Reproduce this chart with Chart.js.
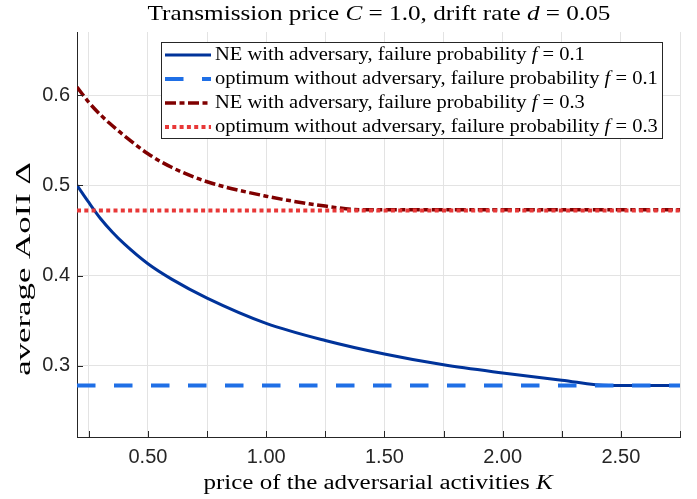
<!DOCTYPE html>
<html>
<head>
<meta charset="utf-8">
<script src="https://cdn.jsdelivr.net/npm/chart.js@4.4.1/dist/chart.umd.min.js"></script>
<style>
  body { margin: 0; background: #fff; }
  #wrap { width: 697px; height: 499px; position: relative; }
</style>
</head>
<body>
<div id="wrap"><canvas id="aoii"></canvas></div>
<script>
// valeurs (prix K -> AoII moyen)
let kNe01 = [0.2, 0.25, 0.3, 0.35, 0.4, 0.5, 0.6, 0.75, 1.0, 1.25, 1.5, 1.75, 2.0, 2.25, 2.45, 2.75];
let aoiiNe01 = [0.500, 0.481, 0.463, 0.448, 0.435, 0.413, 0.396, 0.375, 0.347, 0.328, 0.313, 0.301, 0.292, 0.284, 0.278, 0.278];

let kNe03 = [0.2, 0.25, 0.3, 0.35, 0.4, 0.5, 0.6, 0.75, 1.0, 1.25, 1.4, 2.75];
let aoiiNe03 = [0.609, 0.592, 0.578, 0.566, 0.555, 0.535, 0.520, 0.504, 0.488, 0.477, 0.473, 0.473];

let kOpt = [0.2, 2.75];
let aoiiOpt01 = [0.278, 0.278];
let aoiiOpt03 = [0.472, 0.472];

let xTicks = [0.25, 0.5, 0.75, 1.0, 1.25, 1.5, 1.75, 2.0, 2.25, 2.5, 2.75];
let xTickLabels = ['', '0.50', '', '1.00', '', '1.50', '', '2.00', '', '2.50', ''];
let yTicks = [0.3, 0.4, 0.5, 0.6];
let yTickLabels = ['0.3', '0.4', '0.5', '0.6'];

// textes avec les lettres en italique : [texte, italique]
let legendParts = [
  [['NE with adversary, failure probability ', false], ['f', true], [' = 0.1', false]],
  [['optimum without adversary, failure probability ', false], ['f', true], [' = 0.1', false]],
  [['NE with adversary, failure probability ', false], ['f', true], [' = 0.3', false]],
  [['optimum without adversary, failure probability ', false], ['f', true], [' = 0.3', false]]
];
let titleParts = [['Transmission price ', false], ['C', true], [' = 1.0, drift rate ', false], ['d', true], [' = 0.05', false]];
let xTitleParts = [['price of the adversarial activities ', false], ['K', true]];
let yTitleParts = [['average AoII ', false], ['\u0394', false]];

function points(xs, ys) {
  let out = [];
  for (let i = 0; i < xs.length; i++) {
    out.push({ x: xs[i], y: ys[i] });
  }
  return out;
}

let serif = '"Liberation Serif", "DejaVu Serif", serif';

// écrit un texte en plusieurs morceaux, étiré en largeur par "stretch"
function richText(ctx, parts, x, y, size, align, stretch) {
  let w = 0;
  parts.forEach(p => {
    ctx.font = (p[1] ? 'italic ' : '') + size + 'px ' + serif;
    w += ctx.measureText(p[0]).width;
  });
  ctx.save();
  ctx.translate(x, y);
  ctx.scale(stretch, 1);
  let cx = align === 'center' ? -w / 2 : 0;
  ctx.textBaseline = 'middle';
  ctx.textAlign = 'left';
  parts.forEach(p => {
    ctx.font = (p[1] ? 'italic ' : '') + size + 'px ' + serif;
    ctx.fillText(p[0], cx, 0);
    cx += ctx.measureText(p[0]).width;
  });
  ctx.restore();
}

let datasets = [
  { label: 'NE f=0.1', data: points(kNe01, aoiiNe01), borderColor: '#00339a', borderWidth: 3, borderDash: [], order: 3, cubicInterpolationMode: 'monotone' },
  { label: 'opt f=0.1', data: points(kOpt, aoiiOpt01), borderColor: '#1f6fe6', borderWidth: 4, borderDash: [18.5, 18.5], order: 0 },
  { label: 'NE f=0.3', data: points(kNe03, aoiiNe03), borderColor: '#800000', borderWidth: 3.5, borderDash: [11, 3.5, 5, 3.5], order: 2, cubicInterpolationMode: 'monotone' },
  { label: 'opt f=0.3', data: points(kOpt, aoiiOpt03), borderColor: '#e83838', borderWidth: 4, borderDash: [4, 3.3], order: 1 }
];
datasets.forEach(d => { d.pointRadius = 0; d.fill = false; d.borderCapStyle = 'butt'; });

let decor = {
  id: 'decor',
  afterDraw(chart) {
    let ctx = chart.ctx;
    let a = chart.chartArea;
    let xs = chart.scales.x;
    let ys = chart.scales.y;
    ctx.save();

    // petites graduations vers l'intérieur
    ctx.strokeStyle = '#262626';
    ctx.lineWidth = 1;
    ctx.beginPath();
    xTicks.forEach(v => {
      let px = Math.round(xs.getPixelForValue(v)) + 0.5;
      ctx.moveTo(px, a.bottom);
      ctx.lineTo(px, a.bottom - 6);
    });
    yTicks.forEach(v => {
      let py = Math.round(ys.getPixelForValue(v)) + 0.5;
      ctx.moveTo(a.left, py);
      ctx.lineTo(a.left + 6, py);
    });
    ctx.stroke();

    ctx.fillStyle = '#000';
    richText(ctx, titleParts, 379, 14, 21, 'center', 1.2);
    richText(ctx, xTitleParts, 378, 484, 20, 'center', 1.25);
    ctx.save();
    ctx.translate(25, 269);
    ctx.rotate(-Math.PI / 2);
    richText(ctx, yTitleParts, 0, 0, 20, 'center', 1.74);
    ctx.restore();

    // légende
    ctx.fillStyle = '#fff';
    ctx.fillRect(161, 42, 501, 96);
    ctx.strokeStyle = '#262626';
    ctx.lineWidth = 1;
    ctx.strokeRect(161.5, 42.5, 501, 96);
    legendParts.forEach((parts, i) => {
      let d = datasets[i];
      let y = 55 + i * 24;
      ctx.beginPath();
      ctx.strokeStyle = d.borderColor;
      ctx.lineWidth = d.borderWidth;
      ctx.lineCap = 'butt';
      ctx.setLineDash(d.borderDash);
      ctx.moveTo(165, y);
      ctx.lineTo(211, y);
      ctx.stroke();
      ctx.setLineDash([]);
      ctx.fillStyle = '#000';
      richText(ctx, parts, 215, y, 18, 'left', 1.14);
    });
    ctx.restore();
  }
};

new Chart(document.querySelector('#aoii'), {
  type: 'line',
  data: { datasets: datasets },
  options: {
    responsive: true,
    maintainAspectRatio: false,
    animation: false,
    layout: { padding: { left: 0, right: 17, top: 32, bottom: 0 } },
    plugins: {
      legend: { display: false },
      title: { display: false },
      tooltip: { enabled: false }
    },
    scales: {
      x: {
        type: 'linear',
        min: 0.2,
        max: 2.75,
        afterBuildTicks: s => { s.ticks = xTicks.map(v => ({ value: v })); },
        afterFit: s => { s.height = 62; },
        ticks: {
          autoSkip: false,
          maxRotation: 0,
          padding: 8,
          color: '#262626',
          font: { family: '"Liberation Sans", Arial, sans-serif', size: 20 },
          callback: (v, i) => xTickLabels[i]
        },
        grid: { color: '#e3e3e3', drawTicks: false },
        border: { color: '#262626', width: 1 }
      },
      y: {
        min: 0.221,
        max: 0.67,
        afterBuildTicks: s => { s.ticks = yTicks.map(v => ({ value: v })); },
        afterFit: s => { s.width = 77; },
        ticks: {
          padding: 7,
          color: '#262626',
          font: { family: '"Liberation Sans", Arial, sans-serif', size: 20 },
          callback: (v, i) => yTickLabels[i]
        },
        grid: { color: '#e3e3e3', drawTicks: false },
        border: { color: '#262626', width: 1 }
      }
    }
  },
  plugins: [decor]
});
</script>
</body>
</html>
